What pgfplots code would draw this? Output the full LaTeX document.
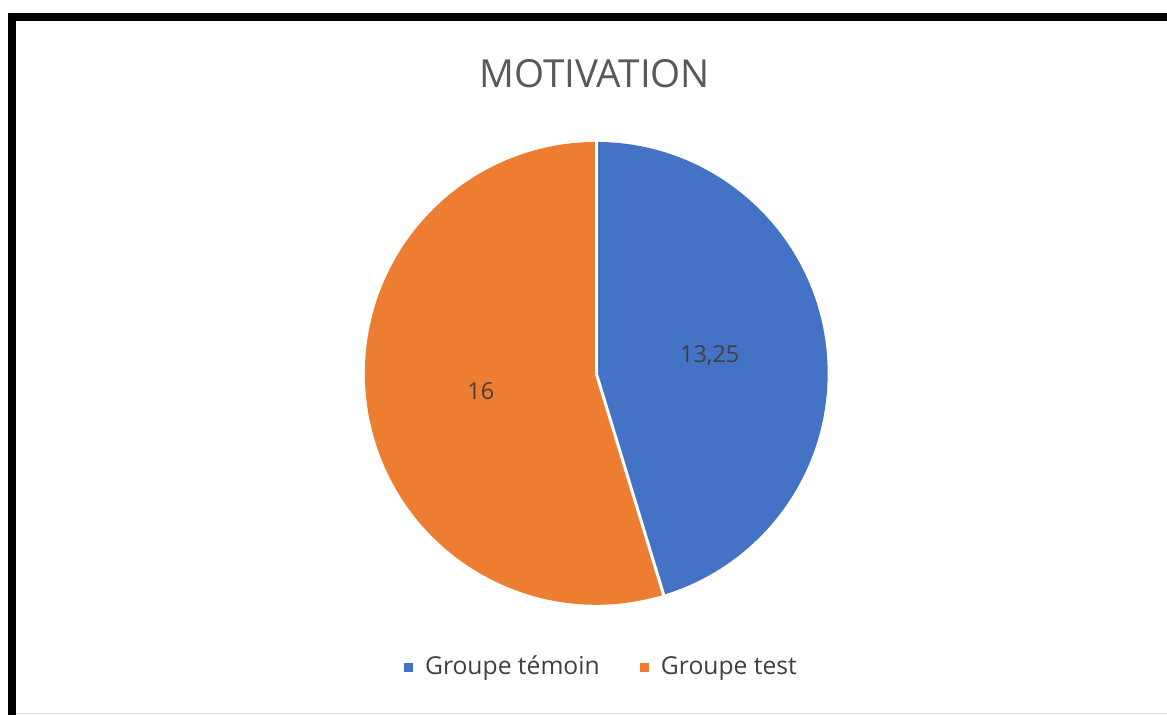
\documentclass[border=0pt]{standalone}
\usepackage{fontspec}
\setmainfont{Open Sans}
\usepackage{pgfplots}
\pgfplotsset{compat=1.18}
\definecolor{pieblue}{HTML}{4472C4}
\definecolor{pieorange}{HTML}{ED7D31}
\definecolor{txt}{HTML}{404040}
\definecolor{ttl}{HTML}{595959}
\begin{document}
\begin{tikzpicture}
\def\va{13.25}
\def\vb{16}
\pgfmathsetmacro\tot{\va+\vb}
\pgfmathsetmacro\angA{90-360*\va/\tot}
\pgfmathsetmacro\angB{\angA-360*\vb/\tot}
\begin{axis}[scale only axis, width=875.25pt, height=536.25pt,
  xmin=0, xmax=1167, ymin=0, ymax=715, axis lines=none, clip=false]
\fill[white] (axis cs:0,0) rectangle (axis cs:1167,715);
\draw[gray!25, line width=0.75pt] (axis cs:16,1) -- (axis cs:1167,1);
\fill[black] (axis cs:8,702) rectangle (axis cs:1167,694);
\fill[black] (axis cs:8,702) rectangle (axis cs:16,0);
% pie wedges
\fill[pieblue] (axis cs:596.5,341.5) -- ++(axis direction cs:0,231.5)
  arc[start angle=90, end angle=\angA, radius=231.5] -- cycle;
\fill[pieorange] (axis cs:596.5,341.5) -- ++(axis direction cs:{231.5*cos(\angA)},{231.5*sin(\angA)})
  arc[start angle=\angA, end angle=\angB, radius=231.5] -- cycle;
\draw[white, line width=2.25pt] (axis cs:596.5,341.5) -- ++(axis direction cs:0,233);
\draw[white, line width=2.25pt] (axis cs:596.5,341.5) -- ++(axis direction cs:{233*cos(\angA)},{233*sin(\angA)});
% data labels
\node[txt, font=\fontsize{17.5}{20}\selectfont] at (axis cs:710,359) {13,25};
\node[txt, font=\fontsize{17.5}{20}\selectfont] at (axis cs:481,324) {16};
% title
\node[ttl, anchor=base, font=\fontsize{29}{33}\selectfont] at (axis cs:595,627) {MOTIVATION};
% legend
\fill[pieblue] (axis cs:404.5,43) rectangle (axis cs:413.5,52);
\node[txt, anchor=base west, inner sep=0pt, font=\fontsize{18.5}{22}\selectfont] at (axis cs:425,40) {Groupe témoin};
\fill[pieorange] (axis cs:640.5,43) rectangle (axis cs:649.5,52);
\node[txt, anchor=base west, inner sep=0pt, font=\fontsize{18.5}{22}\selectfont] at (axis cs:661,40) {Groupe test};
\end{axis}
\end{tikzpicture}
\end{document}
